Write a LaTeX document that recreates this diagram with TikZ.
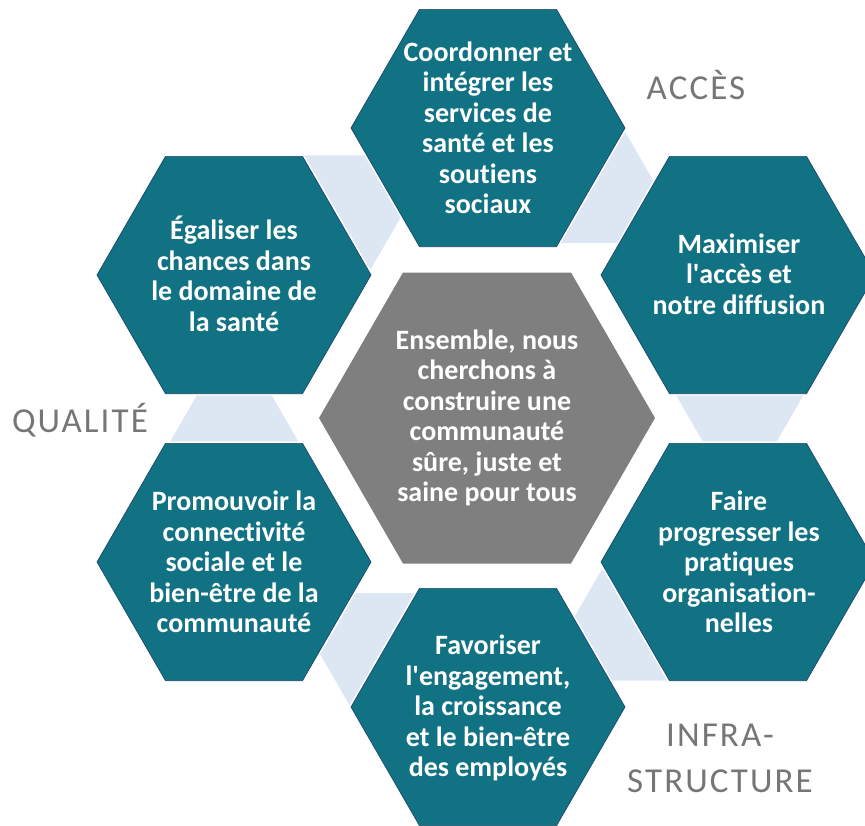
\documentclass[tikz,border=0pt]{standalone}
\usepackage{fontspec}
\setmainfont{Carlito}[Ligatures={NoCommon}]
\newfontfamily\nomapfont{Carlito}[Ligatures={NoCommon}]
\definecolor{tealA}{RGB}{17,114,132}
\definecolor{tealEdge}{RGB}{28,72,108}
\definecolor{grayC}{RGB}{127,127,127}
\definecolor{lightBlue}{RGB}{220,231,243}
\definecolor{labelGray}{RGB}{118,118,118}
\newcommand\hexshape[4]{\path[#4,shift={(#1,#2)}] (0:#3) -- (60:#3) -- (120:#3) -- (180:#3) -- (240:#3) -- (300:#3) -- cycle;}
\newcommand\apos{{\nomapfont'}}
\tikzset{
  tealhex/.style={fill=tealA, draw=tealEdge, line width=0.7pt, line join=miter},
  whiteedge/.style={draw=white, line width=4pt, line join=miter},
  grayhex/.style={fill=grayC},
  bluehex/.style={fill=lightBlue},
  hextxt/.style={text=white, font=\bfseries\fontsize{28}{30.5}\selectfont, align=center, inner sep=0pt},
  sidelabel/.style={text=labelGray, font=\fontsize{35}{46}\selectfont\addfontfeature{LetterSpace=6}, align=center, inner sep=0pt}
}
\begin{document}
\begin{tikzpicture}[x=1pt,y=-1pt]
\useasboundingbox (0,0) rectangle (865,825);
% light blue joints behind
\foreach \a in {7.6,67.6,...,307.6}{
  \hexshape{{487+255*cos(\a)}}{{418-255*sin(\a)}}{70}{bluehex}
}
% white outlines of the outer hexagons
\foreach \cx/\cy in {488/128,738/275,234/275,234/562,738/562,488/707}{
  \hexshape{\cx}{\cy}{137}{whiteedge}
}
% outer hexagons
\foreach \cx/\cy in {488/128,738/275,234/275,234/562,738/562,488/707}{
  \hexshape{\cx}{\cy}{137}{tealhex}
}
% centre hexagon
\hexshape{487}{418}{168}{grayhex}
% texts
\node[hextxt] (top) at (488,128) {Coordonner et\\intégrer les\\services de\\santé et les\\soutiens\\sociaux};
\node[hextxt] (ur) at (739,274) {Maximiser\\l\apos accès et\\notre diffusion};
\node[hextxt] (ul) at (234,274) {Égaliser les\\chances dans\\le domaine de\\la santé};
\node[hextxt] (ctr) at (487,418) {Ensemble, nous\\cherchons à\\construire une\\communauté\\sûre, juste et\\saine pour tous};
\node[hextxt] (ll) at (234,562) {Promouvoir la\\connectivité\\sociale et le\\bien-être de la\\communauté};
\node[hextxt] (lr) at (739,562) {Faire\\progresser les\\pratiques\\organisation-\\nelles};
\node[hextxt] (bot) at (488,708) {Favoriser\\l\apos engagement,\\la croissance\\et le bien-être\\des employés};
% side labels
\node[sidelabel] (acces) at (696,85) {ACCÈS};
\node[sidelabel] (qualite) at (80,420) {QUALITÉ};
\node[sidelabel] (infra) at (720,758) {INFRA-\\STRUCTURE};
\end{tikzpicture}
\end{document}
